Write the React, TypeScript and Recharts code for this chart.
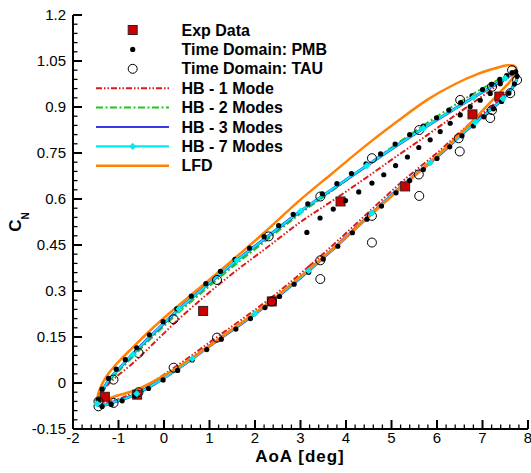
import React from 'react';
import { ComposedChart, Line, Scatter, XAxis, YAxis } from 'recharts';

type P = [number, number];

const FONT = 'Liberation Sans, Arial, Helvetica, sans-serif';

// ---- axis ticks ----
const X_MAJOR = [-2, -1, 0, 1, 2, 3, 4, 5, 6, 7, 8];
const Y_MAJOR = [-0.15, 0, 0.15, 0.3, 0.45, 0.6, 0.75, 0.9, 1.05, 1.2];
const Y_LABELS = ['-0.15', '0', '0.15', '0.3', '0.45', '0.6', '0.75', '0.9', '1.05', '1.2'];
const X_TICKS = Array.from({ length: 51 }, (_, i) => Math.round((-2 + i * 0.2) * 1000) / 1000);
const Y_TICKS = Array.from({ length: 46 }, (_, i) => Math.round((-0.15 + i * 0.03) * 1000) / 1000);

// ---- HB - 3 Modes (blue); HB - 7 Modes (cyan) coincides ----
const HB3_UPPER: P[] = [
  [-1.47, -0.068], [-1.42, -0.045], [-1.33, -0.018], [-1.2, 0.012], [-1.0, 0.045], [-0.7, 0.092],
  [-0.3, 0.152], [0.3, 0.237], [1.0, 0.326], [1.6, 0.4], [2.3, 0.48], [3.0, 0.56], [3.7, 0.632],
  [4.4, 0.703], [5.1, 0.773], [5.8, 0.84], [6.4, 0.895], [6.9, 0.94], [7.3, 0.975], [7.55, 0.998],
  [7.7, 1.012], [7.76, 1.008],
];
const HB3_LOWER: P[] = [
  [7.74, 0.985], [7.62, 0.955], [7.4, 0.92], [7.05, 0.875], [6.6, 0.818], [6.0, 0.737], [5.3, 0.652],
  [4.6, 0.558], [3.9, 0.462], [3.2, 0.369], [2.5, 0.282], [1.8, 0.204], [1.1, 0.131], [0.4, 0.056],
  [-0.2, -0.002], [-0.7, -0.042], [-1.1, -0.062], [-1.35, -0.073],
];

// ---- HB - 2 Modes (green) ----
const HB2_UPPER: P[] = [
  [-1.47, -0.068], [-1.42, -0.047], [-1.33, -0.022], [-1.2, 0.006], [-1.0, 0.038], [-0.7, 0.083],
  [-0.3, 0.143], [0.3, 0.227], [1.0, 0.316], [1.6, 0.39], [2.3, 0.471], [3.0, 0.553], [3.7, 0.628],
  [4.4, 0.703], [5.1, 0.778], [5.8, 0.85], [6.4, 0.907], [6.9, 0.952], [7.3, 0.985], [7.55, 1.005],
  [7.7, 1.015], [7.76, 1.008],
];
const HB2_LOWER: P[] = [
  [7.74, 0.985], [7.62, 0.955], [7.4, 0.92], [7.05, 0.875], [6.6, 0.818], [6.0, 0.737], [5.3, 0.652],
  [4.6, 0.558], [3.9, 0.462], [3.2, 0.369], [2.5, 0.282], [1.8, 0.204], [1.1, 0.131], [0.4, 0.056],
  [-0.2, -0.002], [-0.7, -0.042], [-1.1, -0.062], [-1.35, -0.073],
];

// ---- HB - 1 Mode (red) ----
const HB1_UPPER: P[] = [
  [-1.42, -0.055], [-1.36, -0.033], [-1.25, -0.008], [-1.05, 0.02], [-0.7, 0.063], [-0.3, 0.119],
  [0.3, 0.205], [1.0, 0.296], [1.6, 0.368], [2.3, 0.446], [3.0, 0.525], [3.7, 0.594], [4.4, 0.665],
  [5.1, 0.738], [5.8, 0.81], [6.4, 0.873], [6.9, 0.925], [7.3, 0.967], [7.55, 0.994], [7.7, 1.008],
  [7.75, 1.003],
];
const HB1_LOWER: P[] = [
  [7.72, 0.982], [7.6, 0.956], [7.4, 0.928], [7.05, 0.885], [6.6, 0.83], [6.0, 0.75], [5.3, 0.665],
  [4.6, 0.571], [3.9, 0.475], [3.2, 0.382], [2.5, 0.295], [1.8, 0.217], [1.1, 0.143], [0.4, 0.068],
  [-0.2, 0.008], [-0.7, -0.034], [-1.1, -0.057], [-1.32, -0.064],
];

// ---- LFD (orange) ----
const LFD_UPPER: P[] = [
  [-1.45, -0.045], [-1.41, -0.02], [-1.33, 0.005], [-1.2, 0.035], [-1.0, 0.069], [-0.7, 0.114],
  [-0.3, 0.172], [0.2, 0.238], [0.8, 0.312], [1.5, 0.4], [2.2, 0.49], [3.0, 0.598], [3.7, 0.684],
  [4.4, 0.77], [5.1, 0.85], [5.8, 0.925], [6.4, 0.975], [6.9, 1.008], [7.3, 1.027], [7.55, 1.036],
  [7.7, 1.034], [7.75, 1.022],
];
const LFD_LOWER: P[] = [
  [7.7, 1.003], [7.57, 0.977], [7.37, 0.946], [7.1, 0.904], [6.7, 0.842], [6.1, 0.754], [5.35, 0.655],
  [4.6, 0.556], [3.9, 0.462], [3.1, 0.36], [2.3, 0.262], [1.5, 0.175], [0.8, 0.1], [0.1, 0.033],
  [-0.6, -0.022], [-1.0, -0.04], [-1.3, -0.052],
];

// ---- HB - 7 Modes markers ----
const HB7_MARKS: P[] = [
  [-0.68, 0.093], [0.33, 0.241], [1.6, 0.4], [3.0, 0.56], [4.46, 0.709], [5.7, 0.831], [6.8, 0.931],
  [7.5, 0.994], [7.45, 0.927], [6.84, 0.85], [5.85, 0.718], [4.57, 0.554], [3.18, 0.366], [2.0, 0.226],
  [0.62, 0.079], [-0.6, -0.035], [-1.47, -0.068],
];

// ---- Exp Data ----
const EXP_DATA: P[] = [
  [-1.3, -0.045], [-0.59, -0.038], [0.86, 0.235], [2.37, 0.266], [3.88, 0.592], [5.3, 0.641],
  [6.78, 0.876], [7.37, 0.934],
];

// ---- Time Domain: PMB ----
const PMB_UPPER: P[] = [
  [-1.45, -0.055], [-1.36, -0.02], [-1.22, 0.015], [-1.05, 0.045], [-0.85, 0.076], [-0.6, 0.115],
  [-0.32, 0.157], [-0.02, 0.2], [0.28, 0.242], [0.6, 0.283], [0.92, 0.324], [1.24, 0.364],
  [1.56, 0.403], [1.88, 0.44], [2.2, 0.477], [2.52, 0.513], [2.84, 0.55], [3.16, 0.584],
  [3.48, 0.617], [3.8, 0.65], [4.12, 0.683], [4.44, 0.715], [4.76, 0.747], [5.08, 0.779],
  [5.4, 0.81], [5.7, 0.838], [5.99, 0.865], [6.26, 0.89], [6.52, 0.914], [6.77, 0.936],
  [7.0, 0.957], [7.2, 0.974], [7.38, 0.99], [7.53, 1.002], [7.65, 1.012], [7.73, 1.015],
];
const PMB_LOWER: P[] = [
  [7.76, 1.0], [7.7, 0.975], [7.58, 0.945], [7.42, 0.918], [7.24, 0.894], [7.03, 0.868],
  [6.8, 0.838], [6.55, 0.806], [6.28, 0.77], [6.0, 0.732], [5.7, 0.696], [5.4, 0.66],
  [5.1, 0.62], [4.78, 0.577], [4.46, 0.534], [4.14, 0.49], [3.82, 0.446], [3.5, 0.404],
  [3.18, 0.361], [2.86, 0.322], [2.54, 0.282], [2.22, 0.246], [1.9, 0.21], [1.58, 0.176],
  [1.26, 0.143], [0.94, 0.109], [0.62, 0.075], [0.3, 0.041], [-0.02, 0.01], [-0.34, -0.018],
  [-0.64, -0.042], [-0.92, -0.058], [-1.16, -0.07], [-1.36, -0.077],
];
const PMB_INNER: P[] = [
  [3.14, 0.491], [3.43, 0.538], [3.72, 0.567], [3.99, 0.595], [4.28, 0.623], [4.57, 0.652],
  [4.83, 0.679], [5.09, 0.709], [5.35, 0.737], [5.6, 0.768], [5.85, 0.793], [6.07, 0.82],
  [6.29, 0.847], [6.51, 0.874], [6.73, 0.901], [6.95, 0.922], [7.17, 0.944], [7.39, 0.976],
];

// ---- Time Domain: TAU ----
const TAU_UPPER: P[] = [
  [-1.44, -0.06], [-1.11, 0.011], [-0.56, 0.098], [0.21, 0.208], [1.165, 0.336], [2.3, 0.478],
  [3.435, 0.608], [4.57, 0.733], [5.61, 0.825], [6.51, 0.923], [7.21, 0.966], [7.65, 1.02],
];
const TAU_LOWER: P[] = [
  [7.76, 0.988], [7.21, 0.89], [6.475, 0.798], [5.6, 0.68], [4.57, 0.545], [3.435, 0.4],
  [2.37, 0.266], [1.165, 0.148], [0.211, 0.05], [-0.56, -0.03], [-1.108, -0.065], [-1.44, -0.076],
];
const TAU_FIRST: P[] = [
  [3.435, 0.339], [4.57, 0.458], [5.61, 0.61], [6.5, 0.755], [7.17, 0.864], [7.61, 0.945],
];

const LEGEND_LABELS = [
  'Exp Data', 'Time Domain: PMB', 'Time Domain: TAU', 'HB - 1 Mode', 'HB - 2 Modes',
  'HB - 3 Modes', 'HB - 7 Modes', 'LFD',
];

const C_RED = '#dd1a1a';
const C_GREEN = '#1ec81e';
const C_BLUE = '#3a3ae6';
const C_CYAN = '#00ecec';
const C_ORANGE = '#ff8205';
const C_EXP = '#cc0000';
const DASH_RED = '6 2 1.5 2 1.5 2';
const DASH_GREEN = '7 2.5 2 2.5';

const toPts = (a: P[]) => a.map(([x, y]) => ({ x, y }));
const loop = (upper: P[], lower: P[], s: number) =>
  toPts([...lower.slice(s), ...upper, ...lower.slice(0, s), lower[s]]);

const hb1 = loop(HB1_UPPER, HB1_LOWER, 9);
const hb2 = loop(HB2_UPPER, HB2_LOWER, 9);
const hb3 = loop(HB3_UPPER, HB3_LOWER, 9);
const hb7 = loop(HB3_UPPER, HB3_LOWER, 9);
const lfd = loop(LFD_UPPER, LFD_LOWER, 9);
const pmb = toPts([...PMB_UPPER, ...PMB_LOWER, ...PMB_INNER]);
const tau = toPts([...TAU_UPPER, ...TAU_LOWER, ...TAU_FIRST]);
const exp = toPts(EXP_DATA);
const hb7marks = toPts(HB7_MARKS);

// closed centripetal Catmull-Rom curve (d3-style curve factory) for smooth loops
function closedCatmull(context: any) {
  let pts: number[][] = [];
  return {
    areaStart() {},
    areaEnd() {},
    lineStart() {
      pts = [];
    },
    point(x: number, y: number) {
      pts.push([+x, +y]);
    },
    lineEnd() {
      let n = pts.length;
      if (n > 1 && Math.abs(pts[0][0] - pts[n - 1][0]) < 1e-6 && Math.abs(pts[0][1] - pts[n - 1][1]) < 1e-6) {
        pts.pop();
        n--;
      }
      if (n === 0) return;
      context.moveTo(pts[0][0], pts[0][1]);
      if (n < 3) {
        for (let i = 1; i < n; i++) context.lineTo(pts[i][0], pts[i][1]);
        return;
      }
      for (let i = 0; i < n; i++) {
        const p0 = pts[(i - 1 + n) % n];
        const p1 = pts[i];
        const p2 = pts[(i + 1) % n];
        const p3 = pts[(i + 2) % n];
        const d01 = Math.hypot(p1[0] - p0[0], p1[1] - p0[1]);
        const d12 = Math.hypot(p2[0] - p1[0], p2[1] - p1[1]);
        const d23 = Math.hypot(p3[0] - p2[0], p3[1] - p2[1]);
        const l01a = Math.sqrt(d01), l12a = Math.sqrt(d12), l23a = Math.sqrt(d23);
        let c1x = p1[0], c1y = p1[1], c2x = p2[0], c2y = p2[1];
        if (l01a > 1e-9) {
          const a = 2 * d01 + 3 * l01a * l12a + d12;
          const m = 3 * l01a * (l01a + l12a);
          c1x = (p1[0] * a - p0[0] * d12 + p2[0] * d01) / m;
          c1y = (p1[1] * a - p0[1] * d12 + p2[1] * d01) / m;
        }
        if (l23a > 1e-9) {
          const b = 2 * d23 + 3 * l23a * l12a + d12;
          const m = 3 * l23a * (l23a + l12a);
          c2x = (p2[0] * b + p1[0] * d23 - p3[0] * d12) / m;
          c2y = (p2[1] * b + p1[1] * d23 - p3[1] * d12) / m;
        }
        context.bezierCurveTo(c1x, c1y, c2x, c2y, p2[0], p2[1]);
      }
      context.closePath();
    },
  };
}

const isMajor = (arr: number[], v: number) => arr.findIndex((m) => Math.abs(m - v) < 1e-6);

const XTick = (props: any) => {
  const { x, y, payload } = props;
  const v = payload.value;
  const mi = isMajor(X_MAJOR, v);
  const major = mi >= 0;
  return (
    <g>
      <line x1={x} y1={y} x2={x} y2={y - (major ? 9 : 4.5)} stroke="#000" strokeWidth={major ? 2 : 1.3} />
      {major && (
        <text x={x} y={y + 14} textAnchor="middle" fontSize={15} fontFamily={FONT} fill="#000">
          {String(X_MAJOR[mi])}
        </text>
      )}
    </g>
  );
};

const YTick = (props: any) => {
  const { x, y, payload } = props;
  const v = payload.value;
  const mi = isMajor(Y_MAJOR, v);
  const major = mi >= 0;
  return (
    <g>
      <line x1={x} y1={y} x2={x + (major ? 9 : 4.5)} y2={y} stroke="#000" strokeWidth={major ? 2 : 1.3} />
      {major && (
        <text x={x - 7} y={y + 5.3} textAnchor="end" fontSize={15} fontFamily={FONT} fill="#000">
          {Y_LABELS[mi]}
        </text>
      )}
    </g>
  );
};

const SquareShape = (p: any) => (
  <rect x={p.cx - 4.5} y={p.cy - 4.5} width={9} height={9} fill={C_EXP} stroke="#3a2020" strokeWidth={1} />
);
const DotShape = (p: any) => <circle cx={p.cx} cy={p.cy} r={2.6} fill="#000" />;
const RingShape = (p: any) => <circle cx={p.cx} cy={p.cy} r={4.5} fill="none" stroke="#000" strokeWidth={1} />;
const DiamondShape = (p: any) => (
  <path d={`M${p.cx},${p.cy - 3.6}L${p.cx + 3.6},${p.cy}L${p.cx},${p.cy + 3.6}L${p.cx - 3.6},${p.cy}Z`} fill={C_CYAN} />
);

const LEG_Y = [30, 49.4, 68.8, 88.2, 107.6, 127, 146.4, 165.8];
const LX1 = 96;
const LX2 = 169;
const LMX = 132.7;

const Overlay = () => (
  <svg width={531} height={473} style={{ position: 'absolute', left: 0, top: 0, pointerEvents: 'none' }}>
    <rect x={LMX - 4.5} y={LEG_Y[0] - 4.5} width={9} height={9} fill={C_EXP} stroke="#3a2020" strokeWidth={1} />
    <circle cx={LMX} cy={LEG_Y[1]} r={2.6} fill="#000" />
    <circle cx={LMX} cy={LEG_Y[2]} r={4.5} fill="none" stroke="#000" strokeWidth={1} />
    <line x1={LX1} y1={LEG_Y[3]} x2={LX2} y2={LEG_Y[3]} stroke={C_RED} strokeWidth={2} strokeDasharray={DASH_RED} />
    <line x1={LX1} y1={LEG_Y[4]} x2={LX2} y2={LEG_Y[4]} stroke={C_GREEN} strokeWidth={2} strokeDasharray={DASH_GREEN} />
    <line x1={LX1} y1={LEG_Y[5]} x2={LX2} y2={LEG_Y[5]} stroke={C_BLUE} strokeWidth={2.2} />
    <line x1={LX1} y1={LEG_Y[6]} x2={LX2} y2={LEG_Y[6]} stroke={C_CYAN} strokeWidth={2.4} />
    <path d={`M${LMX},${LEG_Y[6] - 3.6}L${LMX + 3.6},${LEG_Y[6]}L${LMX},${LEG_Y[6] + 3.6}L${LMX - 3.6},${LEG_Y[6]}Z`} fill={C_CYAN} />
    <line x1={LX1} y1={LEG_Y[7]} x2={LX2} y2={LEG_Y[7]} stroke={C_ORANGE} strokeWidth={2.4} />
    {LEGEND_LABELS.map((t, i) => (
      <text key={t} x={181.5} y={LEG_Y[i] + 5.6} fontSize={16} fontWeight="bold" fontFamily={FONT} fill="#000">
        {t}
      </text>
    ))}
    <text x={300} y={462} textAnchor="middle" fontSize={17} fontWeight="bold" fontFamily={FONT} fill="#000" letterSpacing={1}>
      AoA [deg]
    </text>
    <text transform="translate(20.7,222) rotate(-90)" textAnchor="middle" fontSize={17} fontWeight="bold" fontFamily={FONT} fill="#000">
      C<tspan fontSize={10} dy={8.5}>N</tspan>
    </text>
  </svg>
);

export default function App() {
  return (
    <div style={{ position: 'absolute', left: 0, top: 0, width: 531, height: 473, background: '#fff' }}>
      <ComposedChart width={531} height={473} margin={{ top: 15, right: 3, bottom: 14, left: 13 }}>
        <XAxis
          type="number"
          dataKey="x"
          domain={[-2, 8]}
          ticks={X_TICKS}
          interval={0}
          tickSize={0}
          tickMargin={0}
          tickLine={false}
          tick={<XTick />}
          axisLine={{ stroke: '#000', strokeWidth: 2 }}
          height={30}
          allowDataOverflow
        />
        <YAxis
          type="number"
          dataKey="y"
          domain={[-0.15, 1.2]}
          ticks={Y_TICKS}
          interval={0}
          tickSize={0}
          tickMargin={0}
          tickLine={false}
          tick={<YTick />}
          axisLine={{ stroke: '#000', strokeWidth: 2 }}
          width={60}
          allowDataOverflow
        />
        <Scatter data={exp} dataKey="y" shape={SquareShape} isAnimationActive={false} />
        <Scatter data={pmb} dataKey="y" shape={DotShape} isAnimationActive={false} />
        <Scatter data={tau} dataKey="y" shape={RingShape} isAnimationActive={false} />
        <Line data={hb1} dataKey="y" type={closedCatmull as any} stroke={C_RED} strokeWidth={2} strokeDasharray={DASH_RED} dot={false} activeDot={false} isAnimationActive={false} />
        <Line data={hb2} dataKey="y" type={closedCatmull as any} stroke={C_GREEN} strokeWidth={2} strokeDasharray={DASH_GREEN} dot={false} activeDot={false} isAnimationActive={false} />
        <Line data={hb3} dataKey="y" type={closedCatmull as any} stroke={C_BLUE} strokeWidth={3} dot={false} activeDot={false} isAnimationActive={false} />
        <Line data={hb7} dataKey="y" type={closedCatmull as any} stroke={C_CYAN} strokeWidth={2} dot={false} activeDot={false} isAnimationActive={false} />
        <Scatter data={hb7marks} dataKey="y" shape={DiamondShape} isAnimationActive={false} />
        <Line data={lfd} dataKey="y" type={closedCatmull as any} stroke={C_ORANGE} strokeWidth={2.5} dot={false} activeDot={false} isAnimationActive={false} />
      </ComposedChart>
      <Overlay />
    </div>
  );
}
